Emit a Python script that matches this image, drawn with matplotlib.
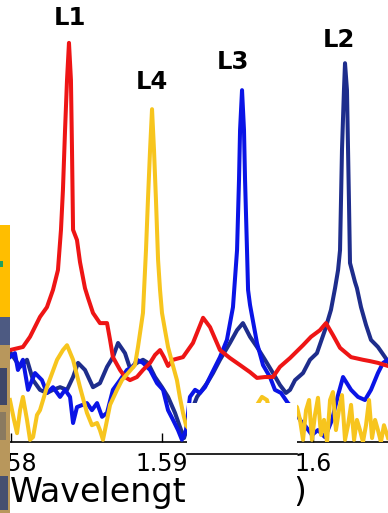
import matplotlib
matplotlib.use("Agg")
import matplotlib.pyplot as plt
from matplotlib.patches import Rectangle
from matplotlib.lines import Line2D
import numpy as np

plt.rcParams['font.family'] = ['DejaVu Sans']

# ---------------- data (wavelength in nm, intensity in a.u. 0-100) ----------------
red_wl = [1579.93, 1580.79, 1581.26, 1581.92, 1582.38, 1582.78, 1583.11, 1583.31, 1583.44, 1583.58,
          1583.71, 1583.84, 1583.97, 1584.04, 1584.11, 1584.37, 1584.57, 1584.90, 1585.10, 1585.43,
          1585.89, 1586.36, 1586.56, 1586.75, 1587.22, 1587.55, 1587.88, 1588.34, 1588.74, 1589.21,
          1589.54, 1589.87, 1590.13, 1590.40, 1590.73, 1591.39, 1592.05, 1592.72, 1593.18, 1593.84,
          1594.50, 1595.17, 1595.83, 1596.29, 1596.82, 1597.35, 1597.81, 1598.48, 1599.34, 1599.87,
          1600.46, 1600.86, 1601.32, 1601.79, 1602.52, 1603.31, 1603.77, 1604.30, 1604.97]
red_int = [20.8, 21.5, 23.8, 28.3, 30.5, 34.4, 38.9, 48.0, 57.0, 70.6,
           81.9, 90.3, 81.9, 66.1, 48.0, 45.7, 40.7, 34.8, 32.6, 29.2,
           26.9, 26.9, 23.1, 19.2, 16.3, 14.7, 14.0, 14.7, 16.3, 17.9,
           19.7, 20.8, 19.2, 17.2, 18.6, 19.2, 22.4, 28.1, 26.0, 20.8,
           19.0, 17.4, 15.8, 14.5, 14.7, 14.7, 17.0, 19.0, 21.9, 23.8,
           25.3, 26.9, 24.2, 21.3, 19.2, 18.6, 18.3, 17.9, 17.2]

blue_wl = [1579.93, 1580.26, 1580.46, 1580.79, 1581.13, 1581.59, 1582.05, 1582.38, 1582.78, 1583.25,
           1583.58, 1583.91, 1584.11, 1584.37, 1585.03, 1585.36, 1585.70, 1586.03, 1586.36, 1586.75,
           1587.22, 1587.68, 1588.08, 1588.34, 1588.74, 1589.21, 1589.67, 1590.07, 1590.40, 1590.73,
           1591.06, 1591.32, 1591.59, 1591.85, 1592.19, 1592.52, 1592.85, 1593.31, 1593.84, 1594.30,
           1594.70, 1594.97, 1595.10, 1595.17, 1595.30, 1595.43, 1595.50, 1595.63, 1595.70, 1595.83,
           1596.29, 1596.69, 1597.15, 1597.48, 1597.88, 1598.34, 1598.81, 1599.14, 1599.54, 1599.93,
           1600.33, 1600.79, 1601.26, 1601.66, 1601.99, 1602.52, 1602.98, 1603.44, 1603.84, 1604.30,
           1604.64, 1604.97]
blue_int = [19.2, 20.1, 16.3, 18.6, 11.8, 15.6, 14.0, 11.1, 12.4, 10.2,
            11.8, 10.2, 4.3, 7.9, 8.8, 7.2, 8.8, 5.7, 6.6, 11.8,
            14.0, 16.3, 17.0, 18.6, 17.9, 16.3, 13.3, 11.8, 7.2, 5.0,
            2.7, 0.5, 2.7, 10.2, 11.8, 11.1, 12.4, 15.6, 19.2, 23.1,
            30.5, 43.4, 59.3, 70.6, 79.6, 70.6, 59.3, 43.4, 34.4, 31.0,
            22.4, 17.4, 14.7, 11.8, 11.1, 8.8, 7.2, 5.0, 3.4, 1.6,
            2.7, 1.1, 5.0, 10.6, 14.7, 11.8, 10.2, 9.5, 11.8, 15.6,
            17.9, 18.6]

navy_wl = [1579.93, 1580.60, 1581.06, 1581.46, 1581.92, 1582.38, 1582.78, 1583.25, 1583.71, 1584.11,
           1584.44, 1584.90, 1585.43, 1585.89, 1586.36, 1586.75, 1587.09, 1587.55, 1587.88, 1588.34,
           1588.74, 1589.07, 1589.54, 1590.00, 1590.40, 1590.86, 1591.19, 1591.46, 1591.72, 1592.05,
           1592.32, 1592.98, 1593.38, 1593.84, 1594.50, 1594.97, 1595.36, 1595.83, 1596.29, 1596.82,
           1597.35, 1597.81, 1598.21, 1598.48, 1598.81, 1599.34, 1599.80, 1600.26, 1600.79, 1601.19,
           1601.46, 1601.66, 1601.79, 1601.92, 1602.05, 1602.12, 1602.25, 1602.38, 1602.45, 1602.78,
           1602.91, 1603.18, 1603.51, 1603.84, 1604.30, 1604.77, 1604.97]
navy_int = [20.4, 17.0, 18.6, 14.0, 11.8, 11.1, 11.8, 12.4, 11.8, 14.7,
            17.9, 16.3, 12.4, 13.3, 17.0, 19.2, 22.4, 20.1, 16.7, 17.9,
            18.6, 17.9, 14.7, 12.4, 10.2, 6.6, 3.4, 0.9, 3.8, 7.9,
            10.2, 13.3, 15.6, 18.6, 22.4, 25.3, 26.9, 23.8, 21.5, 18.6,
            15.6, 12.9, 11.1, 11.8, 14.0, 15.6, 18.6, 20.1, 25.3, 29.9,
            34.8, 38.9, 43.4, 66.1, 79.6, 85.7, 79.6, 54.8, 40.5, 36.2,
            34.8, 30.5, 26.5, 23.1, 21.5, 19.2, 18.1]

yellow_wl = [1579.93, 1580.20, 1580.40, 1580.60, 1580.79, 1581.06, 1581.26, 1581.46, 1581.72, 1581.92,
             1582.38, 1583.05, 1583.44, 1583.71, 1584.11, 1584.57, 1585.03, 1585.36, 1585.70, 1585.89,
             1586.09, 1586.29, 1586.56, 1587.02, 1587.35, 1587.88, 1588.21, 1588.41, 1588.74, 1588.94,
             1589.07, 1589.21, 1589.34, 1589.47, 1589.60, 1589.74, 1589.87, 1590.00, 1590.20, 1590.40,
             1590.66, 1590.99, 1591.19, 1591.39, 1591.59, 1591.85, 1592.19, 1592.52, 1592.85, 1593.31,
             1593.84, 1594.37, 1594.83, 1595.30, 1595.83, 1596.29, 1596.62, 1596.95, 1597.28, 1597.81,
             1598.34, 1598.74, 1598.94, 1599.14, 1599.34, 1599.54, 1599.74, 1599.93, 1600.13, 1600.33,
             1600.53, 1600.73, 1600.93, 1601.13, 1601.32, 1601.52, 1601.72, 1601.92, 1602.12, 1602.32,
             1602.52, 1602.72, 1602.91, 1603.11, 1603.31, 1603.51, 1603.71, 1603.91, 1604.11, 1604.30,
             1604.50, 1604.70, 1604.97]
yellow_int = [9.5, 5.0, 2.0, 7.2, 10.2, 5.0, 0.5, 1.1, 6.1, 7.2,
              12.4, 18.6, 20.8, 21.9, 18.6, 12.4, 6.6, 3.8, 4.3, 2.7,
              0.5, 3.8, 8.4, 11.8, 14.0, 16.1, 17.4, 21.5, 29.2, 43.4,
              54.8, 66.1, 75.3, 66.1, 54.8, 41.2, 34.4, 29.2, 25.3, 21.5,
              18.1, 14.0, 10.0, 6.6, 3.8, 2.7, 5.0, 7.2, 2.7, 5.0,
              1.6, 6.1, 3.8, 7.2, 2.7, 8.4, 10.2, 9.5, 5.0, 2.7,
              6.1, 8.4, 7.9, 5.0, 0.5, 7.2, 9.5, 0.5, 6.1, 10.0,
              1.6, 5.0, 0.0, 9.5, 11.3, 2.7, 7.2, 10.6, 0.5, 3.8,
              8.4, 0.5, 5.0, 2.7, 0.0, 3.8, 9.5, 0.9, 5.0, 2.7,
              0.0, 3.8, 0.9]

peak_labels = ['L1', 'L4', 'L3', 'L2']
peak_label_wl = [1583.91, 1589.34, 1594.70, 1601.72]
peak_label_int = [95.9, 81.4, 86.0, 91.0]

xticks = [1.58, 1.59, 1.60]
xtick_labels = ['1.58', '1.59', '1.6']
xlabel_main = 'Wavelength'
xlabel_unit = '(\u03bcm)'

# ---------------- figure ----------------
W, H = 388, 513
fig = plt.figure(figsize=(W / 100, H / 100), dpi=100)
fig.patch.set_facecolor('white')
ax = fig.add_axes([0, 71 / H, 1, 442 / H])
ax.set_xlim(1.579272, 1.604967)
ax.set_ylim(0, 100)

lw = 2.9
ax.plot(np.array(navy_wl) / 1000, navy_int, color='#1E2D8C', lw=lw, zorder=2, solid_joinstyle='round')
ax.plot(np.array(blue_wl) / 1000, blue_int, color='#0A14E6', lw=lw, zorder=3, solid_joinstyle='round')
ax.plot(np.array(red_wl) / 1000, red_int, color='#EE1515', lw=lw, zorder=4, solid_joinstyle='round')
ax.plot(np.array(yellow_wl) / 1000, yellow_int, color='#F7C51E', lw=lw, zorder=5, solid_joinstyle='round')

for lab, wl, iv in zip(peak_labels, peak_label_wl, peak_label_int):
    ax.text(wl / 1000, iv, lab, ha='center', va='center', fontsize=17.5,
            fontweight='bold', color='black', zorder=6)

for s in ['left', 'right', 'top']:
    ax.spines[s].set_visible(False)
ax.spines['bottom'].set_linewidth(1.2)
ax.set_yticks([])
ax.set_xticks(xticks)
ax.set_xticklabels(xtick_labels, fontsize=17)
ax.tick_params(axis='x', direction='in', length=6.5, width=1.0, pad=7)
ax.patch.set_alpha(0)

# x label (its middle is hidden by the white box, as in the reference)
fig.text(10 / W, 1 - 502 / H, xlabel_main, ha='left', va='baseline', fontsize=24, color='black')
fig.text(307 / W, 1 - 502 / H, xlabel_unit, ha='right', va='baseline', fontsize=24, color='black')

# ---------------- overlapping slide decorations ----------------
def px_rect(x0, y0, x1, y1, color, z=10):
    r = Rectangle((x0 / W, 1 - y1 / H), (x1 - x0) / W, (y1 - y0) / H,
                  transform=fig.transFigure, facecolor=color, edgecolor='none', zorder=z)
    fig.add_artist(r)

# left strip
px_rect(0, 225, 10, 317, '#FFBE00')
px_rect(0, 261, 3, 267, '#1FA060', z=11)
px_rect(0, 317, 10, 345, '#4D5A82')
px_rect(0, 345, 10, 513, '#B8975C')
px_rect(0, 368, 7, 405, '#3E4668', z=11)
px_rect(0, 412, 6, 440, '#8A7A60', z=11)
px_rect(0, 476, 8, 510, '#464F70', z=11)

# white box covering part of the axis
px_rect(187, 403, 297, 513, 'white', z=12)
fig.add_artist(Line2D([187 / W, 297 / W], [1 - 454 / H, 1 - 454 / H], transform=fig.transFigure,
                      color='black', lw=1.2, zorder=13))

fig.savefig('out.png', dpi=100)
